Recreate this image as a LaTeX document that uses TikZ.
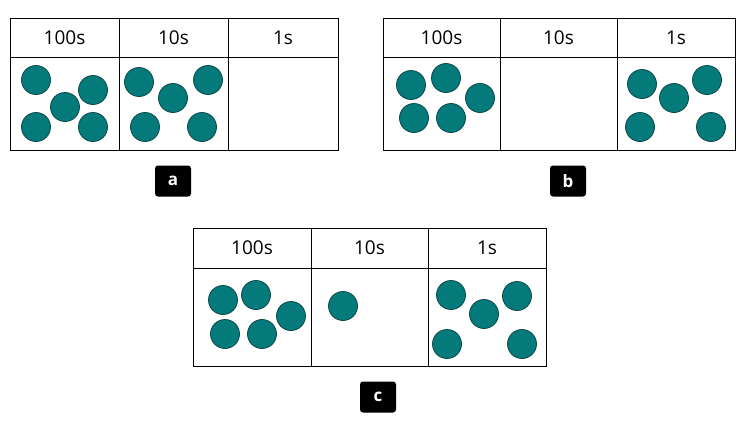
\documentclass[tikz,border=0pt]{standalone}
\usepackage{fontspec}
\setmainfont{Open Sans}
\definecolor{teal1}{HTML}{047A7A}
\definecolor{tealE}{HTML}{0A4848}
\begin{document}
\begin{tikzpicture}[x=1pt,y=-1pt,
  cnt/.style={circle,fill=teal1,draw=tealE,line width=0.8pt,minimum size=29pt,inner sep=0pt},
  hdr/.style={font=\fontsize{19}{19}\selectfont},
  tag/.style={fill=black,text=white,rounded corners=3pt,minimum width=36pt,minimum height=31pt,font=\bfseries\fontsize{17}{17}\selectfont}]
\useasboundingbox (0,0) rectangle (750,424);
% chart a
\draw[line width=1pt] (10,18) rectangle (338,150) (10,57)--(338,57) (119,18)--(119,150) (228,18)--(228,150);
\node[hdr] (ah1) at (64.5,37.5) {100s};
\node[hdr] (ah2) at (173.5,37.5) {10s};
\node[hdr] (ah3) at (283,37.5) {1s};
\foreach \p [count=\i] in {(36,80),(93,90),(65,107),(36,127),(93,127),(139,82),(208,80),(173,98),(145,127),(202,127)}
  \node[cnt] (a\i) at \p {};
\node[tag] (ta) at (173,181) {a};
% chart b
\draw[line width=1pt] (383,18) rectangle (735,150) (383,57)--(735,57) (500,18)--(500,150) (617,18)--(617,150);
\node[hdr] (bh1) at (441.5,37.5) {100s};
\node[hdr] (bh2) at (558.5,37.5) {10s};
\node[hdr] (bh3) at (676,37.5) {1s};
\foreach \p [count=\i] in {(411,85),(446,78),(480,98),(414,118),(451,118),(642,84),(707,80),(674,98),(640,127),(711,127)}
  \node[cnt] (b\i) at \p {};
\node[tag] (tb) at (568,181) {b};
% chart c
\draw[line width=1pt] (193,228) rectangle (546,366) (193,268)--(546,268) (311,228)--(311,366) (428,228)--(428,366);
\node[hdr] (ch1) at (252,248) {100s};
\node[hdr] (ch2) at (369.5,248) {10s};
\node[hdr] (ch3) at (487,248) {1s};
\foreach \p [count=\i] in {(223,300),(256,295),(291,316),(225,334),(262,334),(343,306),(451,295),(517,296),(484,314),(447,344),(522,344)}
  \node[cnt] (c\i) at \p {};
\node[tag] (tc) at (378,397) {c};
\end{tikzpicture}
\end{document}
